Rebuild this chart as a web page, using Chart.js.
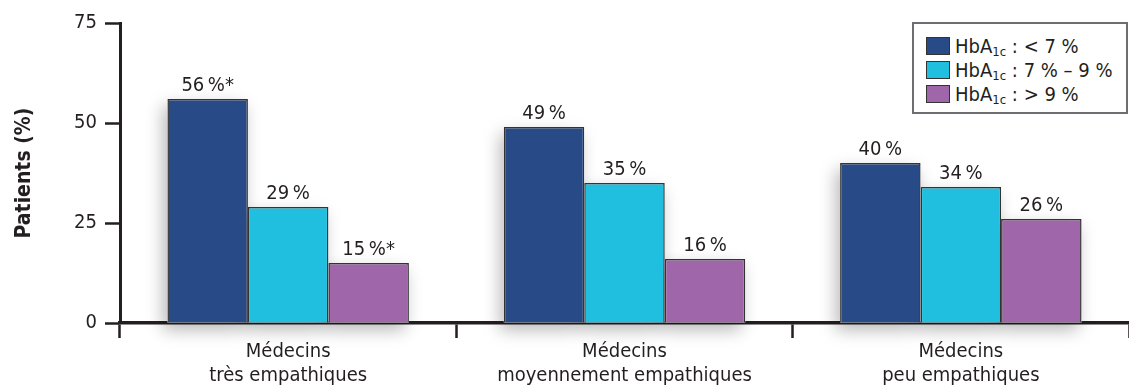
<!DOCTYPE html>
<html>
<head>
<meta charset="utf-8">
<script src="https://cdn.jsdelivr.net/npm/chart.js@4"></script>
<style>
  html, body { margin: 0; padding: 0; background: #fff; }
  #wrap { position: relative; width: 1129px; height: 390px; }
  #legend {
    position: absolute; left: 912px; top: 22px; width: 216px; height: 92px;
    border: 2px solid #6d6e71; background: #fff;
    font-family: 'Liberation Sans Narrow', 'DejaVu Sans Condensed', sans-serif;
    font-size: 20px; color: #231f20; padding-top: 10px; box-sizing: border-box;
  }
  .item { display: flex; align-items: center; height: 24px; padding-left: 12px; }
  .swatch { width: 22px; height: 16px; border: 1.5px solid #333; margin-right: 5px; }
  .item sub { font-size: 13px; vertical-align: -3px; }
</style>
</head>
<body>
<div id="wrap">
  <canvas id="chart" width="1129" height="390"></canvas>
  <div id="legend"></div>
</div>
<script>
document.addEventListener('DOMContentLoaded', () => {
    const FONT = "'Liberation Sans Narrow', 'DejaVu Sans Condensed', sans-serif";
    const INK = '#231f20';

    // Data
    const categories = [['Médecins', 'très empathiques'], ['Médecins', 'moyennement empathiques'], ['Médecins', 'peu empathiques']];
    const seriesNames = ['< 7 %', '7 % – 9 %', '> 9 %'];
    const seriesColors = ['#284a87', '#20bfe0', '#a066aa'];
    const lowValues = [56, 49, 40];
    const midValues = [29, 35, 34];
    const highValues = [15, 16, 26];
    const lowLabels = ['56\u2009%*', '49\u2009%', '40\u2009%'];
    const midLabels = ['29\u2009%', '35\u2009%', '34\u2009%'];
    const highLabels = ['15\u2009%*', '16\u2009%', '26\u2009%'];
    const yTicks = [0, 25, 50, 75];

    const seriesValues = [lowValues, midValues, highValues];
    const seriesLabels = [lowLabels, midLabels, highLabels];

    // soft shadow drawn behind every bar
    const shadowPlugin = {
        id: 'barShadow',
        beforeDatasetsDraw(chart) {
            const ctx = chart.ctx;
            ctx.save();
            ctx.shadowColor = 'rgba(0,0,0,0.28)';
            ctx.shadowBlur = 16;
            ctx.shadowOffsetX = -4;
            ctx.shadowOffsetY = 7;
            ctx.fillStyle = '#fff';
            chart.data.datasets.forEach((ds, i) => {
                chart.getDatasetMeta(i).data.forEach(bar => {
                    ctx.fillRect(bar.x - bar.width / 2, bar.y, bar.width, bar.base - bar.y);
                });
            });
            ctx.restore();
        }
    };

    // value labels above bars
    const valueLabelPlugin = {
        id: 'valueLabels',
        afterDatasetsDraw(chart) {
            const ctx = chart.ctx;
            ctx.save();
            ctx.font = '20px ' + FONT;
            ctx.fillStyle = INK;
            ctx.textAlign = 'center';
            ctx.textBaseline = 'bottom';
            chart.data.datasets.forEach((ds, i) => {
                chart.getDatasetMeta(i).data.forEach((bar, j) => {
                    ctx.fillText(seriesLabels[i][j], bar.x, bar.y - 3);
                });
            });
            ctx.restore();
        }
    };

    const datasets = seriesNames.map((name, i) => ({
        label: name,
        data: seriesValues[i],
        backgroundColor: seriesColors[i],
        borderColor: '#333',
        borderWidth: 1.5,
        categoryPercentage: 0.718,
        barPercentage: 1.0,
        clip: false
    }));

    new Chart(document.getElementById('chart').getContext('2d'), {
        type: 'bar',
        data: { labels: categories, datasets },
        options: {
            responsive: false,
            animation: false,
            layout: { padding: { top: 23, right: 0, bottom: 0, left: 0 } },
            plugins: { legend: { display: false }, tooltip: { enabled: false } },
            scales: {
                x: {
                    z: 1,
                    grid: { offset: true, drawOnChartArea: false, tickLength: 15, tickColor: INK, tickWidth: 2.5 },
                    border: { display: true, color: INK, width: 3.5 },
                    ticks: { color: INK, font: { family: FONT, size: 20 }, padding: 2, maxRotation: 0 },
                    afterFit(scale) { scale.height = 67; }
                },
                y: {
                    min: 0, max: 75,
                    afterBuildTicks(scale) { scale.ticks = yTicks.map(v => ({ value: v })); },
                    grid: { drawOnChartArea: false, tickLength: 15, tickColor: INK, tickWidth: 2.5 },
                    border: { display: true, color: INK, width: 3 },
                    ticks: { color: INK, font: { family: FONT, size: 20 }, padding: 8 },
                    title: { display: true, text: 'Patients (%)', color: INK, font: { family: FONT, size: 21, weight: 'bold' }, padding: { top: 12, bottom: 0 } },
                    afterFit(scale) { scale.width = 120; }
                }
            }
        },
        plugins: [shadowPlugin, valueLabelPlugin]
    });

    // legend with subscript
    const legend = document.getElementById('legend');
    legend.innerHTML = seriesNames.map((name, i) =>
        `<div class="item"><span class="swatch" style="background:${seriesColors[i]}"></span><span>HbA<sub>1c</sub>&nbsp;: ${name.replace('<', '&lt;').replace('>', '&gt;')}</span></div>`
    ).join('');
});
</script>
</body>
</html>
